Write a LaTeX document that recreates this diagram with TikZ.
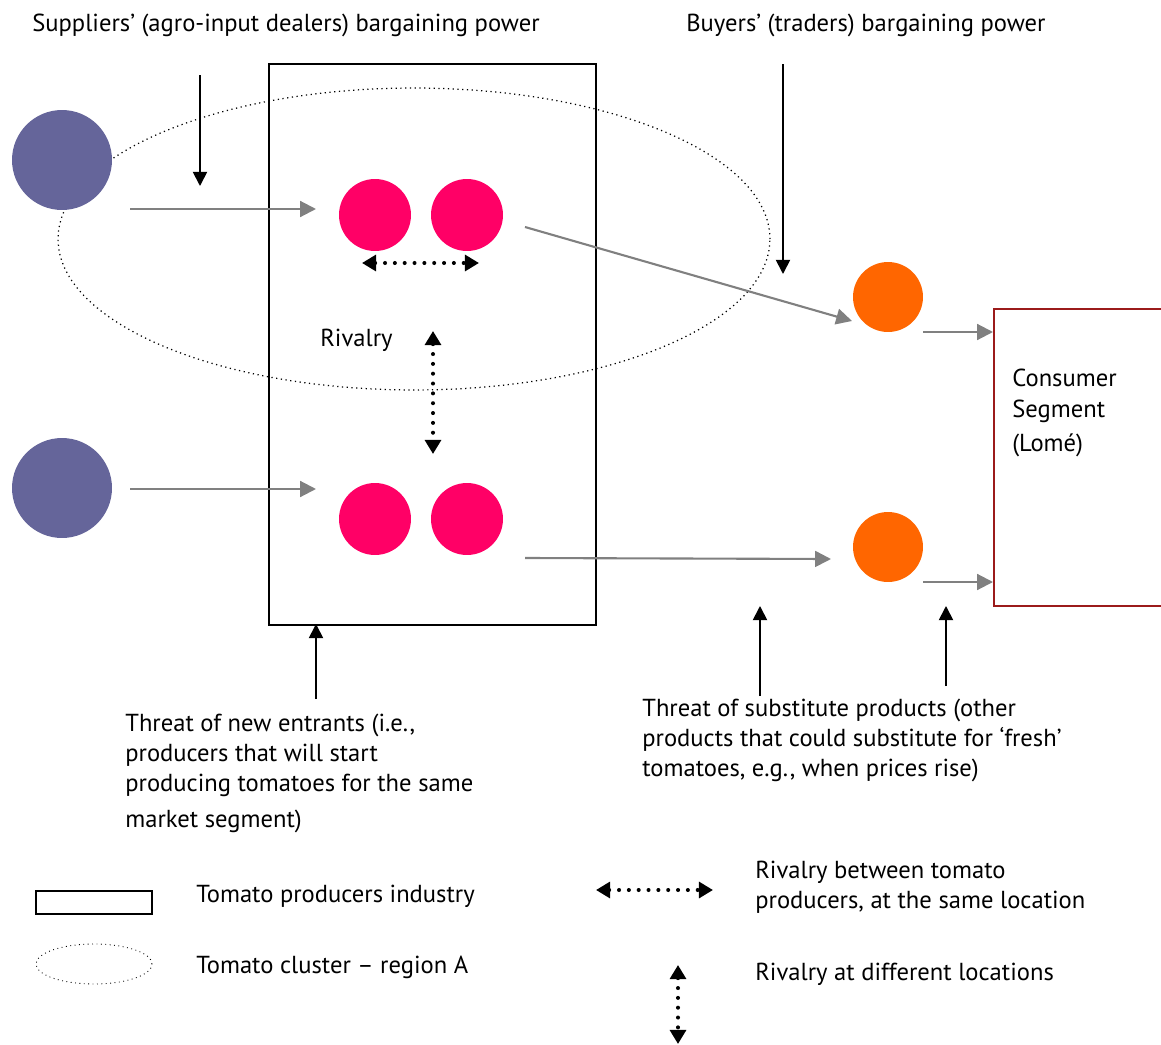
\documentclass[tikz,border=0pt]{standalone}
\usepackage{fontspec}
\setmainfont{PT Sans}
\usetikzlibrary{arrows.meta,shapes.geometric}
\definecolor{supplier}{RGB}{101,101,154}
\definecolor{producer}{RGB}{255,0,102}
\definecolor{trader}{RGB}{255,102,0}
\definecolor{consumer}{RGB}{155,27,27}
\definecolor{flow}{RGB}{128,128,128}
\begin{document}
\begin{tikzpicture}[x=0.02cm,y=-0.02cm,
  % multi-line labels are placed by the baseline of their last line
  txt/.style={font=\fontsize{14}{17}\selectfont, inner sep=0pt, anchor=base west, align=left},
  supnode/.style={circle, fill=supplier, inner sep=0pt, minimum size=2cm},
  prodnode/.style={circle, fill=producer, inner sep=0pt, minimum size=1.44cm},
  tradenode/.style={circle, fill=trader, inner sep=0pt, minimum size=1.4cm},
  flowarrow/.style={draw=flow, line width=1.2pt, -{Triangle[length=9pt,width=9pt]}},
  forcearrow/.style={draw=black, line width=1pt, -{Triangle[length=8pt,width=8pt]}},
  rivalry/.style={line width=2.3pt, dash pattern=on 0pt off 5.6pt, line cap=round,
    {Triangle[length=8pt,width=9pt]}-{Triangle[length=8pt,width=9pt]}}]
\useasboundingbox (0,0) rectangle (1161,1045);

% industry box and regional cluster
\node[draw, line width=1pt, minimum width=6.54cm, minimum height=11.22cm, inner sep=0pt] (industry) at (432.5,344.5) {};
\node[ellipse, draw, dotted, line width=0.7pt, minimum width=14.24cm, minimum height=6.04cm, inner sep=0pt] (cluster) at (414,239) {};

% actors
\node[supnode] (s1) at (62,160) {};
\node[supnode] (s2) at (62,488) {};
\node[prodnode] (p1) at (375,215) {};
\node[prodnode] (p2) at (467,215) {};
\node[prodnode] (p3) at (375,519) {};
\node[prodnode] (p4) at (467,519) {};
\node[tradenode] (t1) at (888,297) {};
\node[tradenode] (t2) at (888,547) {};
\node[draw=consumer, line width=1pt, minimum width=4cm, minimum height=5.94cm, inner sep=0pt, anchor=north west] (cons) at (993,308) {};

% flow ends
\coordinate (f1a) at (130,209); \coordinate (f1b) at (316,209);
\coordinate (f2a) at (130,489); \coordinate (f2b) at (316,489);
\coordinate (f3a) at (525,227); \coordinate (f3b) at (852,321);
\coordinate (f4a) at (525,558); \coordinate (f4b) at (831,559);
\coordinate (f5a) at (923,332); \coordinate (f5b) at (993,332);
\coordinate (f6a) at (923,582); \coordinate (f6b) at (993,582);
\draw[flowarrow] (f1a) -- (f1b);
\draw[flowarrow] (f2a) -- (f2b);
\draw[flowarrow] (f3a) -- (f3b);
\draw[flowarrow] (f4a) -- (f4b);
\draw[flowarrow] (f5a) -- (f5b);
\draw[flowarrow] (f6a) -- (f6b);

% competitive forces
\coordinate (k1a) at (200,75);  \coordinate (k1b) at (200,186);
\coordinate (k2a) at (783,64);  \coordinate (k2b) at (783,274);
\coordinate (k3a) at (316,699); \coordinate (k3b) at (316,624);
\coordinate (k4a) at (760,696); \coordinate (k4b) at (760,606);
\coordinate (k5a) at (946,686); \coordinate (k5b) at (946,606);
\draw[forcearrow] (k1a) -- (k1b);
\draw[forcearrow] (k2a) -- (k2b);
\draw[forcearrow] (k3a) -- (k3b);
\draw[forcearrow] (k4a) -- (k4b);
\draw[forcearrow] (k5a) -- (k5b);

% rivalry
\coordinate (r1a) at (362,263); \coordinate (r1b) at (479,263);
\coordinate (r2a) at (433,331); \coordinate (r2b) at (433,454);
\draw[rivalry] (r1a) -- (r1b);
\draw[rivalry] (r2a) -- (r2b);

% labels
\node[txt] (lsup) at (32,31) {Suppliers’ (agro-input dealers) bargaining power};
\node[txt] (lbuy) at (686,31) {Buyers’ (traders) bargaining power};
\node[txt] (lriv) at (320,346) {Rivalry};
\node[txt] (lcons) at (1012,451) {Consumer\\[0.6pt]Segment\\[2.2pt](Lomé)};
\node[txt] (lnew) at (125,827) {Threat of new entrants (i.e.,\\producers that will start\\producing tomatoes for the same\\[3.4pt]market segment)};
\node[txt] (lsub) at (642,776) {Threat of substitute products (other\\products that could substitute for ‘fresh’\\tomatoes, e.g., when prices rise)};

% legend
\node[draw, line width=0.8pt, minimum width=2.32cm, minimum height=0.46cm, inner sep=0pt] (kbox) at (94,902.5) {};
\node[ellipse, draw, dotted, line width=0.5pt, minimum width=2.32cm, minimum height=0.8cm, inner sep=0pt] (kell) at (94,964) {};
\node[txt] (kboxt) at (196,902) {Tomato producers industry};
\node[txt] (kellt) at (196,973) {Tomato cluster – region A};
\coordinate (kr1a) at (596,890); \coordinate (kr1b) at (713,890);
\coordinate (kr2a) at (678,965); \coordinate (kr2b) at (678,1044);
\draw[rivalry] (kr1a) -- (kr1b);
\draw[rivalry] (kr2a) -- (kr2b);
\node[txt] (kr1t) at (755,908) {Rivalry between tomato\\producers, at the same location};
\node[txt] (kr2t) at (755,980) {Rivalry at different locations};
\end{tikzpicture}
\end{document}
